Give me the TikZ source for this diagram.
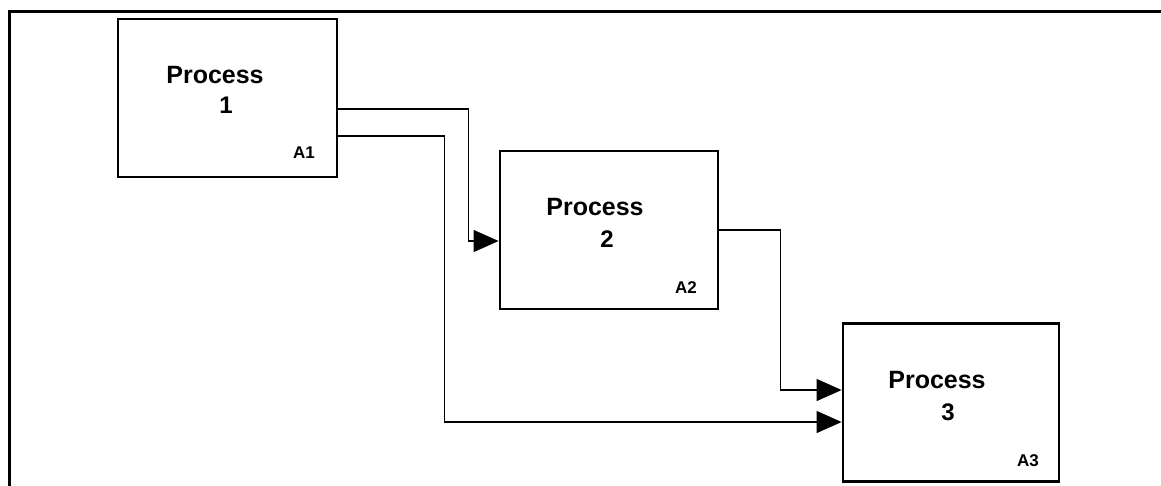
\documentclass[tikz,border=0pt]{standalone}
\usepackage{fontspec}
\setmainfont{Liberation Sans}
\usetikzlibrary{arrows.meta}
\begin{document}
\begin{tikzpicture}[x=1pt,y=-1pt,
  procbox/.style={draw=black, line width=2.8pt, rectangle, inner sep=0pt, minimum width=#1, minimum height=158pt},
  ptitle/.style={anchor=base, inner sep=0pt, font=\fontsize{25}{27}\selectfont\bfseries},
  pnum/.style={anchor=base, inner sep=0pt, font=\fontsize{24}{26}\selectfont\bfseries},
  pid/.style={anchor=base, inner sep=0pt, font=\fontsize{17}{19}\selectfont\bfseries},
  conn/.style={draw=black, line width=1.1pt, -{Triangle[length=25pt,width=22pt]}}]
\fill[white] (0,0) rectangle (1161,485);
\useasboundingbox (0,0) rectangle (1161,485);
% frame
\draw[line width=3pt] (9,495) -- (9,11) -- (1170,11);
% boxes
\node[procbox=219pt] (b1) at (227.5,98) {};
\node[procbox=218pt] (b2) at (609,230) {};
\node[procbox=216pt] (b3) at (951,402.5) {};
% texts
\node[ptitle] (t1) at (215,83) {Process};
\node[pnum] (n1) at (226,113) {1};
\node[pid] (a1) at (304,158) {A1};
\node[ptitle] (t2) at (595,215) {Process};
\node[pnum] (n2) at (607,247) {2};
\node[pid] (a2) at (686,293) {A2};
\node[ptitle] (t3) at (937,388) {Process};
\node[pnum] (n3) at (948,420) {3};
\node[pid] (a3) at (1028,466) {A3};
% connectors
\draw[conn] ([yshift=-11pt]b1.east) -- ++(130,0) |- ([yshift=-11pt]b2.west);
\draw[conn] ([yshift=-38pt]b1.east) -- ++(106,0) |- ([yshift=-19.5pt]b3.west);
\draw[conn] (b2.east) -- ++(61,0) |- ([yshift=12.5pt]b3.west);
\end{tikzpicture}
\end{document}
